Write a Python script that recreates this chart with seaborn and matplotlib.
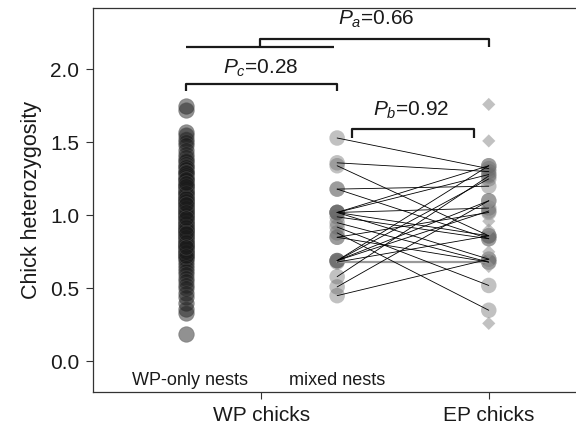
import numpy as np
import pandas as pd
import matplotlib
matplotlib.use('Agg')
import matplotlib.pyplot as plt
import seaborn as sns

# heterozygosity of chicks in WP-only nests
wp_only = [1.75, 1.72, 1.57, 1.55, 1.52, 1.50, 1.48, 1.45, 1.42, 1.40, 1.38, 1.37,
           1.35, 1.34, 1.33, 1.32, 1.30, 1.29, 1.28, 1.26, 1.25, 1.24, 1.22, 1.21,
           1.20, 1.19, 1.18, 1.17, 1.16, 1.15, 1.14, 1.13, 1.12, 1.11, 1.10, 1.09,
           1.08, 1.07, 1.06, 1.05, 1.04, 1.03, 1.02, 1.01, 1.00, 0.99, 0.98, 0.97,
           0.96, 0.95, 0.94, 0.93, 0.92, 0.91, 0.90, 0.89, 0.88, 0.87, 0.86, 0.85,
           0.84, 0.83, 0.82, 0.81, 0.80, 0.79, 0.78, 0.77, 0.76, 0.75, 0.74, 0.73,
           0.72, 0.71, 0.70, 0.68, 0.66, 0.64, 0.62, 0.60, 0.57, 0.55, 0.52, 0.50,
           0.47, 0.44, 0.40, 0.36, 0.33, 0.19,
           1.30, 1.25, 1.20, 1.15, 1.10, 1.05, 1.00, 0.95, 0.90, 0.85, 0.80, 0.75,
           1.12, 1.02, 0.92, 0.82, 1.22, 0.72, 1.08, 0.98, 0.88, 0.78]

# mixed nests: WP chick value paired with EP chick value
mixed_wp = [1.53, 1.36, 1.34, 1.18, 1.18, 1.02, 1.02, 1.02, 1.02, 1.02, 0.99, 0.95,
            0.92, 0.88, 0.85, 0.85, 0.69, 0.69, 0.69, 0.69, 0.68, 0.58, 0.51, 0.45]
mixed_ep = [1.32, 1.30, 0.86, 0.84, 1.20, 1.34, 1.28, 0.86, 0.70, 1.05, 0.84, 0.68,
            0.52, 0.35, 1.02, 0.68, 1.34, 1.25, 1.10, 1.03, 0.86, 1.27, 1.10, 0.70]
gray_pair = (0.68, 0.68)

# EP chicks without a matched line (diamonds)
ep_other = [1.76, 1.51, 1.08, 0.96, 0.90, 0.75, 0.65, 0.26]

group_pos = {'WP-only nests': 0, 'mixed nests': 1, 'EP chicks': 2}
xtick_pos = [0.5, 2.0]
xtick_labels = ['WP chicks', 'EP chicks']
ytick_pos = [0.0, 0.5, 1.0, 1.5, 2.0]

sns.set_style('ticks')
plt.rcParams['font.family'] = ['Liberation Sans', 'DejaVu Sans']
plt.rcParams['mathtext.fontset'] = 'custom'
plt.rcParams['mathtext.it'] = 'Liberation Sans:italic'
plt.rcParams['mathtext.rm'] = 'Liberation Sans'

ink = '#1a1a1a'
fig = plt.figure(figsize=(5.76, 4.28), dpi=100)
ax = fig.add_axes([0.1615, 0.0841, 0.845, 0.897])

# connecting lines between paired chicks
lines = pd.DataFrame({
    'pair': np.repeat(np.arange(len(mixed_wp)), 2),
    'x': [group_pos['mixed nests'], group_pos['EP chicks']] * len(mixed_wp),
    'y': [v for pr in zip(mixed_wp, mixed_ep) for v in pr],
})
sns.lineplot(data=lines, x='x', y='y', units='pair', estimator=None,
             color='black', lw=0.6, ax=ax, zorder=3)
ax.plot([group_pos['mixed nests'], group_pos['EP chicks']], list(gray_pair),
        color='#999999', lw=1.6, zorder=2.5)

wp_df = pd.DataFrame({'x': [group_pos['WP-only nests']] * len(wp_only), 'y': wp_only})
mix_df = pd.DataFrame({
    'x': [group_pos['mixed nests']] * len(mixed_wp) + [group_pos['EP chicks']] * len(mixed_ep),
    'y': mixed_wp + mixed_ep,
})
sns.scatterplot(data=wp_df, x='x', y='y', s=125, color='#1a1a1a',
                alpha=0.48, edgecolor='#555555', linewidth=0.6, ax=ax, zorder=2)
sns.scatterplot(data=mix_df, x='x', y='y', s=125, color='#666666',
                alpha=0.4, edgecolor='none', ax=ax, zorder=2)

dia = pd.DataFrame({'x': [group_pos['EP chicks']] * len(ep_other), 'y': ep_other})
sns.scatterplot(data=dia, x='x', y='y', marker='D', s=45, color='#999999',
                alpha=0.6, edgecolor='none', ax=ax, zorder=2)

# significance brackets
kw = dict(color=ink, lw=1.6, solid_capstyle='butt')
ax.plot([0, 0, 1, 1], [1.85, 1.90, 1.90, 1.85], **kw)
ax.plot([0, 0.98], [2.155, 2.155], **kw)
ax.plot([0.49, 0.49, 2, 2], [2.155, 2.21, 2.21, 2.155], **kw)
ax.plot([1.1, 1.1, 1.9, 1.9], [1.53, 1.59, 1.59, 1.53], **kw)
ax.text(1.26, 2.345, '$P_a$=0.66', ha='center', va='center', fontsize=15, color=ink)
ax.text(0.5, 2.01, '$P_c$=0.28', ha='center', va='center', fontsize=15, color=ink)
ax.text(1.49, 1.72, '$P_b$=0.92', ha='center', va='center', fontsize=15, color=ink)

ax.text(0.03, -0.13, 'WP-only nests', ha='center', va='center', fontsize=13, color=ink)
ax.text(1.0, -0.13, 'mixed nests', ha='center', va='center', fontsize=13, color=ink)

ax.set_xlim(-0.61, 2.6)
ax.set_ylim(-0.21, 2.42)
ax.set_xticks(xtick_pos)
ax.set_xticklabels(xtick_labels, fontsize=15, color=ink)
ax.set_yticks(ytick_pos)
ax.set_yticklabels([f'{v:.1f}' for v in ytick_pos], fontsize=15, color=ink)
ax.set_xlabel('')
ax.set_ylabel('Chick heterozygosity', fontsize=15.5, color=ink, labelpad=6)
ax.tick_params(direction='out', length=5, width=0.8, color='#333333', pad=5)
for sp in ax.spines.values():
    sp.set_visible(True)
    sp.set_color('#333333')
    sp.set_linewidth(0.9)

fig.savefig('out.png', dpi=100)
